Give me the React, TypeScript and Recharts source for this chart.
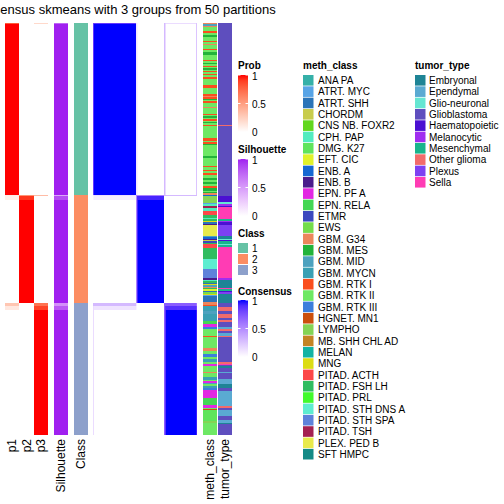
import React from 'react';
import { BarChart, Bar, XAxis, YAxis, Cell } from 'recharts';

// ---- sample runs (rows, top to bottom) ----
const runSizes = [1, 124, 1, 3, 75, 2, 3, 91];
const runClass = [1, 1, 2, 2, 2, 3, 3, 3];
const runP1 = [0.8, 1, 0.1, 0.08, 0, 0.3, 0.12, 0];
const runP2 = [0, 0, 0.55, 0.92, 1, 0, 0, 0];
const runP3 = [0.2, 0, 0.35, 0, 0, 0.7, 0.88, 1];
const runSilhouette = [0.75, 1, 0.45, 0.85, 1, 0.55, 0.8, 1];

// consensus matrix: column runs (samples) and block values (row run x column run)
const consensusColSizes = [3, 122, 1, 3, 75, 3, 3, 87, 3];
const consensusBlocks = [
  [0.8, 0.85, 0.1, 0.05, 0, 0.3, 0.2, 0.15, 0.25],
  [0.85, 1, 0.1, 0.05, 0, 0.3, 0.15, 0, 0.25],
  [0.1, 0.15, 0.55, 0.55, 0.55, 0.3, 0.3, 0.3, 0.3],
  [0.05, 0.08, 0.55, 0.9, 0.92, 0, 0, 0, 0],
  [0, 0, 0.55, 0.92, 1, 0, 0, 0, 0],
  [0.3, 0.3, 0.1, 0, 0, 0.7, 0.7, 0.7, 0.6],
  [0.15, 0.12, 0.05, 0, 0, 0.7, 0.85, 0.88, 0.8],
  [0.15, 0, 0, 0, 0, 0.7, 0.88, 1, 0.95],
];

const classNames = ['1', '2', '3'];
const classColors = ['#66C2A5', '#FC8D62', '#8DA0CB'];

const methClasses = [
  'ANA PA', 'ATRT. MYC', 'ATRT. SHH', 'CHORDM', 'CNS NB. FOXR2', 'CPH. PAP', 'DMG. K27', 'EFT. CIC',
  'ENB. A', 'ENB. B', 'EPN. PF A', 'EPN. RELA', 'ETMR', 'EWS', 'GBM. G34', 'GBM. MES', 'GBM. MID',
  'GBM. MYCN', 'GBM. RTK I', 'GBM. RTK II', 'GBM. RTK III', 'HGNET. MN1', 'LYMPHO', 'MB. SHH CHL AD',
  'MELAN', 'MNG', 'PITAD. ACTH', 'PITAD. FSH LH', 'PITAD. PRL', 'PITAD. STH DNS A', 'PITAD. STH SPA',
  'PITAD. TSH', 'PLEX. PED B', 'SFT HMPC',
];
const methColors = [
  '#35B0A8', '#58A4E6', '#2B74B8', '#C8CC4C', '#62D71E', '#52ECC0', '#5FE45C', '#E0F22A',
  '#1568D2', '#4A1C8C', '#E228E2', '#44D654', '#3B48BE', '#74DC4C', '#EC865C', '#22B33A', '#4DA2BF',
  '#3AA0B4', '#FA4E1E', '#6EE864', '#3C7EDC', '#CB4F0D', '#84D455', '#C48424',
  '#13B3A4', '#DCDC14', '#FC4848', '#30BC60', '#42FA2C', '#5EEDD0', '#5E82DA',
  '#A42050', '#E8EA4C', '#148A86',
];

const tumorTypes = [
  'Embryonal', 'Ependymal', 'Glio-neuronal', 'Glioblastoma', 'Haematopoietic', 'Melanocytic',
  'Mesenchymal', 'Other glioma', 'Plexus', 'Sella',
];
const tumorColors = [
  '#1E8496', '#5AAAD2', '#66E6D2', '#5E4EBE', '#4B10D2', '#A02DF0',
  '#19B48C', '#F26B6B', '#7D40F2', '#FF3CB4',
];

const methRuns: [string, number][] = [
  ['GBM. G34', 1], ['GBM. MID', 1], ['GBM. G34', 1], ['GBM. RTK II', 3], ['GBM. RTK I', 1], ['GBM. RTK II', 2],
  ['GBM. MES', 1], ['GBM. RTK II', 3], ['GBM. RTK I', 1], ['GBM. RTK II', 1], ['GBM. G34', 1], ['GBM. RTK II', 3],
  ['GBM. RTK I', 1], ['GBM. RTK II', 1], ['GBM. MES', 2], ['GBM. RTK II', 4], ['GBM. RTK I', 1], ['GBM. RTK II', 1],
  ['GBM. MES', 1], ['GBM. RTK II', 1], ['GBM. RTK I', 1], ['GBM. RTK II', 1], ['GBM. MES', 1], ['GBM. RTK II', 1],
  ['GBM. RTK I', 1], ['GBM. RTK II', 1], ['GBM. RTK I', 1], ['GBM. RTK II', 1], ['GBM. RTK I', 2], ['GBM. RTK II', 4],
  ['GBM. RTK I', 2], ['GBM. RTK II', 5], ['GBM. RTK I', 1], ['GBM. G34', 1], ['GBM. RTK I', 1], ['GBM. MES', 1],
  ['GBM. RTK II', 1], ['GBM. RTK I', 1], ['GBM. RTK II', 3], ['GBM. G34', 1], ['GBM. RTK II', 4], ['GBM. RTK I', 1],
  ['GBM. RTK II', 1], ['GBM. MES', 1], ['GBM. RTK II', 1], ['GBM. RTK I', 1], ['GBM. RTK II', 1], ['GBM. MES', 1],
  ['GBM. RTK II', 1], ['GBM. RTK I', 1],
  ['GBM. RTK II', 9], ['GBM. RTK I', 2], ['GBM. RTK II', 1], ['GBM. RTK I', 1], ['GBM. MES', 1], ['GBM. RTK II', 8],
  ['GBM. MES', 1], ['GBM. RTK II', 6], ['GBM. RTK I', 1], ['GBM. RTK II', 2], ['GBM. RTK I', 1], ['GBM. RTK II', 1],
  ['GBM. RTK I', 2], ['GBM. RTK II', 2], ['GBM. MES', 1], ['GBM. RTK II', 2], ['GBM. MES', 1], ['GBM. RTK II', 2],
  ['GBM. RTK I', 1], ['GBM. MES', 2], ['GBM. RTK II', 1], ['GBM. MES', 1], ['GBM. G34', 1],
  // group 2
  ['ENB. A', 1], ['LYMPHO', 5], ['ATRT. MYC', 1], ['CPH. PAP', 1], ['PITAD. TSH', 2], ['CPH. PAP', 2],
  ['PITAD. ACTH', 3], ['PITAD. FSH LH', 2], ['CPH. PAP', 1], ['PITAD. FSH LH', 1], ['MNG', 1], ['ATRT. SHH', 1],
  ['ENB. B', 1], ['PLEX. PED B', 8], ['GBM. MID', 1], ['ENB. A', 1], ['ENB. B', 1], ['CHORDM', 1], ['ETMR', 1],
  ['PITAD. FSH LH', 1], ['PITAD. ACTH', 3], ['PITAD. FSH LH', 8], ['PITAD. STH DNS A', 7], ['PITAD. STH SPA', 7],
  ['ENB. B', 1], ['CPH. PAP', 1], ['PITAD. FSH LH', 1], ['ATRT. SHH', 1], ['MNG', 1], ['GBM. MID', 1],
  ['GBM. G34', 1], ['PITAD. FSH LH', 1], ['EFT. CIC', 1], ['ATRT. SHH', 1], ['EWS', 1], ['MNG', 1],
  ['ATRT. MYC', 1], ['ATRT. SHH', 4], ['GBM. G34', 1],
  // group 3
  ['GBM. G34', 1], ['GBM. RTK I', 1], ['GBM. MYCN', 4], ['GBM. MID', 2], ['GBM. MYCN', 5], ['EPN. RELA', 2],
  ['EPN. PF A', 2], ['GBM. RTK III', 2], ['GBM. RTK II', 5], ['GBM. RTK I', 1], ['GBM. RTK II', 8], ['GBM. G34', 2],
  ['GBM. RTK II', 2], ['GBM. RTK III', 2], ['GBM. RTK II', 2], ['GBM. MYCN', 2], ['GBM. RTK II', 1], ['EPN. PF A', 2],
  ['GBM. RTK II', 4], ['GBM. G34', 1], ['GBM. RTK II', 3], ['GBM. MYCN', 2], ['GBM. RTK II', 1], ['EPN. PF A', 1],
  ['GBM. MID', 1], ['GBM. RTK II', 1], ['GBM. MYCN', 2], ['GBM. RTK III', 1], ['EPN. PF A', 6], ['EPN. RELA', 5],
  ['EPN. PF A', 2], ['GBM. RTK II', 1], ['HGNET. MN1', 1], ['DMG. K27', 8], ['LYMPHO', 1], ['GBM. RTK II', 9],
];

const tumorRuns: [string, number][] = [
  ['Glioblastoma', 74], ['Other glioma', 1], ['Glioblastoma', 50],
  // group 2
  ['Glioblastoma', 1], ['Haematopoietic', 4], ['Glio-neuronal', 2], ['Melanocytic', 1], ['Haematopoietic', 1],
  ['Sella', 9], ['Mesenchymal', 1], ['Melanocytic', 1], ['Haematopoietic', 2], ['Plexus', 8], ['Embryonal', 2],
  ['Glio-neuronal', 1], ['Haematopoietic', 1], ['Mesenchymal', 2], ['Glio-neuronal', 1], ['Mesenchymal', 1],
  ['Sella', 23], ['Melanocytic', 1], ['Embryonal', 6], ['Sella', 1], ['Mesenchymal', 1], ['Haematopoietic', 1],
  ['Plexus', 1], ['Embryonal', 7],
  // group 3
  ['Glioblastoma', 3], ['Other glioma', 3], ['Glioblastoma', 2], ['Other glioma', 3], ['Glioblastoma', 1],
  ['Other glioma', 2], ['Glioblastoma', 3], ['Ependymal', 2], ['Other glioma', 1], ['Glioblastoma', 2],
  ['Ependymal', 2], ['Other glioma', 1], ['Glioblastoma', 18], ['Other glioma', 1], ['Sella', 1],
  ['Glioblastoma', 1], ['Embryonal', 1], ['Glioblastoma', 3], ['Ependymal', 1], ['Glioblastoma', 4],
  ['Ependymal', 4], ['Embryonal', 3], ['Glioblastoma', 2], ['Ependymal', 11], ['Other glioma', 1],
  ['Glioblastoma', 2], ['Ependymal', 4], ['Glioblastoma', 3], ['Ependymal', 2], ['Embryonal', 1],
  ['Glioblastoma', 8],
];

const bottomLabels = ['p1', 'p2', 'p3', 'Silhouette', 'Class', 'meth_class', 'tumor_type'];
const TITLE = 'Consensus skmeans with 3 groups from 50 partitions';

// ---- colour helpers (LAB interpolation, as in ComplexHeatmap) ----
const hexToRgb = (h: string) => {
  const n = parseInt(h.slice(1), 16);
  return [(n >> 16) & 255, (n >> 8) & 255, n & 255];
};
const lin = (c: number) => {
  c /= 255;
  return c <= 0.04045 ? c / 12.92 : Math.pow((c + 0.055) / 1.055, 2.4);
};
const unlin = (c: number) => {
  const v = c <= 0.0031308 ? 12.92 * c : 1.055 * Math.pow(c, 1 / 2.4) - 0.055;
  return Math.round(Math.max(0, Math.min(1, v)) * 255);
};
const Xn = 0.95047, Zn = 1.08883;
const fl = (t: number) => (t > 0.008856 ? Math.cbrt(t) : 7.787 * t + 16 / 116);
const finv = (t: number) => (t * t * t > 0.008856 ? t * t * t : (t - 16 / 116) / 7.787);
const toLab = (hex: string) => {
  const [r, g, b] = hexToRgb(hex).map(lin);
  const X = (0.4124 * r + 0.3576 * g + 0.1805 * b) / Xn;
  const Y = 0.2126 * r + 0.7152 * g + 0.0722 * b;
  const Z = (0.0193 * r + 0.1192 * g + 0.9505 * b) / Zn;
  const fy = fl(Y);
  return [116 * fy - 16, 500 * (fl(X) - fy), 200 * (fy - fl(Z))];
};
const fromLab = ([L, a, b]: number[]) => {
  const fy = (L + 16) / 116, fx = fy + a / 500, fz = fy - b / 200;
  const X = finv(fx) * Xn, Y = finv(fy), Z = finv(fz) * Zn;
  const r = 3.2406 * X - 1.5372 * Y - 0.4986 * Z;
  const g = -0.9689 * X + 1.8758 * Y + 0.0415 * Z;
  const bb = 0.0557 * X - 0.204 * Y + 1.057 * Z;
  return `rgb(${unlin(r)},${unlin(g)},${unlin(bb)})`;
};
const ramp = (c1: string) => {
  const A = toLab('#FFFFFF'), B = toLab(c1);
  return (t: number) => {
    const u = Math.max(0, Math.min(1, t));
    return fromLab(A.map((v, k) => v + (B[k] - v) * u));
  };
};
const probCol = ramp('#FF0000');
const silCol = ramp('#A020F0');
const consCol = ramp('#0000FF');

// ---- expand runs into samples ----
const sampleRun: number[] = runSizes.flatMap((n, r) => Array(n).fill(r));
const expand = (runs: [string, number][]) => runs.flatMap(([v, n]) => Array(n).fill(v) as string[]);
const methS = expand(methRuns);
const tumorS = expand(tumorRuns);
const N = sampleRun.length;

// ---- layout (pixel units along the x axis) ----
const PLOT_LEFT = 5, PLOT_TOP = 23, PLOT_BOTTOM = 435;
const BAND = (PLOT_BOTTOM - PLOT_TOP) / N;
const CONS_W = 104;
type Track = { key: string; width: number; color?: (i: number) => string };
const tracks: Track[] = [
  { key: 'p1', width: 14.33, color: (i) => probCol(runP1[sampleRun[i]]) },
  { key: 'p2', width: 14.33, color: (i) => probCol(runP2[sampleRun[i]]) },
  { key: 'p3', width: 14.34, color: (i) => probCol(runP3[sampleRun[i]]) },
  { key: 'gapA', width: 6 },
  { key: 'sil', width: 14, color: (i) => silCol(runSilhouette[sampleRun[i]]) },
  { key: 'gapB', width: 6 },
  { key: 'cls', width: 14, color: (i) => classColors[runClass[sampleRun[i]] - 1] },
  { key: 'gapC', width: 5 },
  ...consensusColSizes.map((n, c) => ({
    key: 'c' + c,
    width: (n * CONS_W) / N,
    color: (i: number) => consCol(consensusBlocks[sampleRun[i]][c]),
  })),
  { key: 'gapD', width: 6 },
  { key: 'meth', width: 14, color: (i) => methColors[methClasses.indexOf(methS[i])] },
  { key: 'gapE', width: 1 },
  { key: 'tumor', width: 14, color: (i) => tumorColors[tumorTypes.indexOf(tumorS[i])] },
];
const TOTAL_W = tracks.reduce((s, t) => s + t.width, 0);

const rows = sampleRun.map((_, i) => {
  const o: Record<string, number | string> = { id: 's' + i };
  tracks.forEach((t) => (o[t.key] = t.width));
  return o;
});

const labelX = [12.2, 26.5, 40.8, 61, 81, 210, 225];
const FONT = '"Liberation Sans", Arial, Helvetica, sans-serif';

function GradLegend({ id, title, top, color, titleY }: { id: string; title: string; top: number; color: (t: number) => string; titleY: number }) {
  const h = 57;
  const stops = Array.from({ length: 11 }, (_, k) => k / 10);
  return (
    <g>
      <defs>
        <linearGradient id={id} x1="0" y1="0" x2="0" y2="1">
          {stops.map((s) => (
            <stop key={s} offset={s} stopColor={color(1 - s)} />
          ))}
        </linearGradient>
      </defs>
      <text x={238} y={titleY} fontSize={10} fontWeight="bold">{title}</text>
      <rect x={238} y={top} width={10} height={h} fill={`url(#${id})`} />
      {[0, 0.5, 1].map((f) => (
        <g key={f}>
          <line x1={238} x2={240.5} y1={top + f * h} y2={top + f * h} stroke="#fff" strokeWidth={1} />
          <line x1={245.5} x2={248} y1={top + f * h} y2={top + f * h} stroke="#fff" strokeWidth={1} />
          <text x={252} y={top + 1 + f * (h - 1)} fontSize={10} dominantBaseline="central">
            {f === 0 ? '1' : f === 0.5 ? '0.5' : '0'}
          </text>
        </g>
      ))}
    </g>
  );
}

export default function App() {
  return (
    <div style={{ position: 'absolute', left: 0, top: 0, width: 504, height: 504, background: '#fff', fontFamily: FONT }}>
      <style>{'.recharts-rectangle{shape-rendering:crispEdges}'}</style>
      <div style={{ position: 'absolute', left: 0, top: 0 }}>
        <BarChart
          width={504}
          height={504}
          layout="vertical"
          data={rows}
          margin={{ top: PLOT_TOP, left: PLOT_LEFT, right: 504 - PLOT_LEFT - TOTAL_W, bottom: 504 - PLOT_BOTTOM }}
          barCategoryGap={0}
          barGap={0}
          barSize={BAND - 0.0005}
        >
          <XAxis type="number" domain={[0, TOTAL_W]} hide allowDataOverflow />
          <YAxis type="category" dataKey="id" hide />
          {tracks.map((t) => (
            <Bar key={t.key} dataKey={t.key} stackId="a" isAnimationActive={false} fill="transparent">
              {t.color ? rows.map((_, i) => <Cell key={i} fill={t.color!(i)} />) : null}
            </Bar>
          ))}
        </BarChart>
      </div>
      <svg width={504} height={504} style={{ position: 'absolute', left: 0, top: 0, pointerEvents: 'none', fontFamily: FONT }}>
        <text x={-30} y={14} fontSize={13}>{TITLE}</text>
        {bottomLabels.map((l, k) => (
          <text key={l} transform={`translate(${labelX[k]},439) rotate(-90)`} textAnchor="end" dominantBaseline="central" fontSize={12}>
            {l}
          </text>
        ))}
        <GradLegend id="gProb" title="Prob" top={75} color={probCol} titleY={69} />
        <GradLegend id="gSil" title="Silhouette" top={159} color={silCol} titleY={153} />
        <text x={238} y={236.5} fontSize={10} fontWeight="bold">Class</text>
        {classNames.map((c, k) => (
          <g key={c}>
            <rect x={238} y={243 + k * 11} width={10} height={10} fill={classColors[k]} />
            <text x={252} y={248.5 + k * 11} fontSize={10} dominantBaseline="central">{c}</text>
          </g>
        ))}
        <GradLegend id="gCons" title="Consensus" top={300} color={consCol} titleY={294.5} />
        <text x={303} y={69} fontSize={10} fontWeight="bold">meth_class</text>
        {methClasses.map((m, k) => (
          <g key={m}>
            <rect x={303} y={75 + k * 11.33} width={10.5} height={10.6} fill={methColors[k]} />
            <text x={318} y={80.5 + k * 11.33} fontSize={10} dominantBaseline="central">{m}</text>
          </g>
        ))}
        <text x={415} y={69} fontSize={10} fontWeight="bold">tumor_type</text>
        {tumorTypes.map((m, k) => (
          <g key={m}>
            <rect x={415} y={75 + k * 11.33} width={10.5} height={10.6} fill={tumorColors[k]} />
            <text x={429} y={80.5 + k * 11.33} fontSize={10} dominantBaseline="central">{m}</text>
          </g>
        ))}
      </svg>
    </div>
  );
}
